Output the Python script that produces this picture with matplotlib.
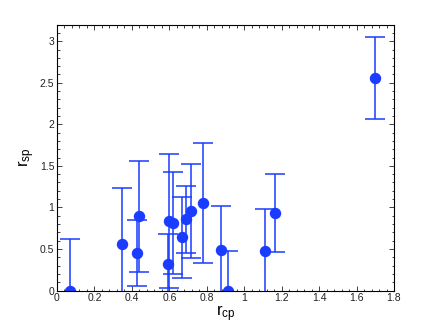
import matplotlib
matplotlib.use('Agg')
from matplotlib import pyplot as plt
from matplotlib.ticker import MultipleLocator, AutoMinorLocator

plt.rcParams['font.family'] = ['Liberation Sans', 'DejaVu Sans']
plt.rcParams['mathtext.default'] = 'regular'

# 数据：r_cp, r_sp 以及误差
r_cp = [0.07, 0.347, 0.44, 0.43, 0.595, 0.60, 0.621, 0.668, 0.691, 0.716,
        0.782, 0.876, 0.912, 1.111, 1.165, 1.697]
r_sp = [0.0, 0.56, 0.894, 0.448, 0.323, 0.833, 0.817, 0.64, 0.857, 0.962,
        1.054, 0.492, 0.0, 0.476, 0.938, 2.552]
err = [0.617, 0.675, 0.67, 0.397, 0.354, 0.807, 0.613, 0.49, 0.406, 0.566,
       0.719, 0.526, 0.472, 0.51, 0.469, 0.494]

fig = plt.figure(figsize=(4.36, 3.28), dpi=100)
ax = fig.add_axes([0.1307, 0.1143, 0.773, 0.8107])

blue = '#1a3cff'
ax.errorbar(r_cp, r_sp, yerr=err, fmt='o', color=blue, ecolor=blue,
            markersize=7.2, elinewidth=1.1, capsize=7.2, capthick=1.1,
            clip_on=True)

ax.set_xlim(0, 1.8)
ax.set_ylim(0, 3.2)
ax.xaxis.set_major_locator(MultipleLocator(0.2))
ax.yaxis.set_major_locator(MultipleLocator(0.5))
ax.xaxis.set_minor_locator(AutoMinorLocator(5))
ax.yaxis.set_minor_locator(AutoMinorLocator(5))
ax.set_xticklabels([])
ax.set_xticks([0, 0.2, 0.4, 0.6, 0.8, 1, 1.2, 1.4, 1.6, 1.8])
ax.set_xticklabels(['0', '0.2', '0.4', '0.6', '0.8', '1', '1.2', '1.4', '1.6', '1.8'])
ax.set_yticks([0, 0.5, 1, 1.5, 2, 2.5, 3])
ax.set_yticklabels(['0', '0.5', '1', '1.5', '2', '2.5', '3'])
ax.tick_params(which='both', direction='in', top=True, right=True,
               labelsize=7.5, width=0.6, pad=2, colors='#222222')
ax.tick_params(which='major', length=3.5)
ax.tick_params(which='minor', length=1.8)
for s in ax.spines.values():
    s.set_linewidth(0.8)

ax.set_xlabel(r'r$_{cp}$', fontsize=12, labelpad=0)
ax.set_ylabel(r'r$_{sp}$', fontsize=12, labelpad=2)

fig.savefig('out.png', dpi=100)
